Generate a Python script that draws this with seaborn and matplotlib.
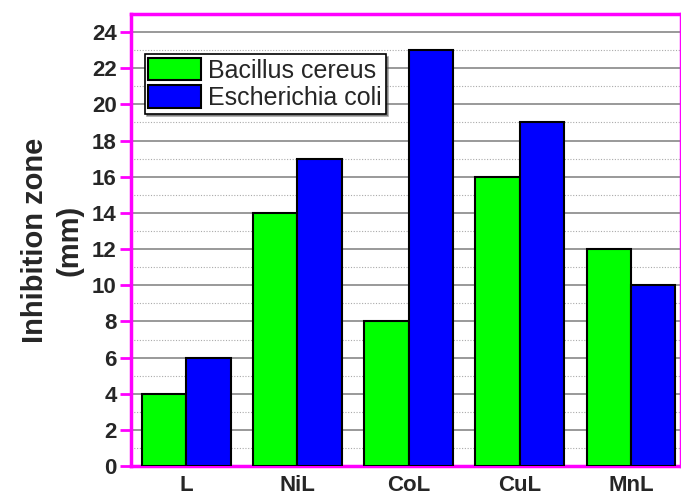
import matplotlib
matplotlib.use('Agg')
import matplotlib.pyplot as plt
import seaborn as sns
import pandas as pd
from matplotlib.ticker import MultipleLocator

compounds = ['L', 'NiL', 'CoL', 'CuL', 'MnL']
bacillus = [4, 14, 8, 16, 12]
ecoli = [6, 17, 23, 19, 10]
series = ['Bacillus cereus', 'Escherichia coli']

df = pd.DataFrame({
    'compound': compounds * 2,
    'zone': bacillus + ecoli,
    'strain': [series[0]] * len(compounds) + [series[1]] * len(compounds),
})

sns.set_style('white')
plt.rcParams['font.family'] = ['Liberation Sans', 'DejaVu Sans']

fig = plt.figure(figsize=(6.81, 4.96), dpi=100)
ax = fig.add_axes([0.192, 0.06, 0.808, 0.912])

sns.barplot(data=df, x='compound', y='zone', hue='strain', order=compounds,
            palette=['#00ff00', '#0000ff'], width=0.8, edgecolor='black',
            linewidth=1.5, saturation=1, ax=ax, zorder=3)

ax.set_xlim(-0.5, 4.45)
ax.set_ylim(0, 25)
ax.yaxis.set_major_locator(MultipleLocator(2))
ax.yaxis.set_minor_locator(MultipleLocator(1))
ax.grid(which='major', axis='y', color='#888888', linewidth=1.2, zorder=0)
ax.grid(which='minor', axis='y', color='#aaaaaa', linewidth=0.8,
        linestyle=(0, (1, 1.5)), zorder=0)
ax.set_axisbelow(True)

for s in ax.spines.values():
    s.set_color('#ff00ff')
    s.set_linewidth(2.5)

ax.tick_params(axis='y', which='major', direction='out', length=8, width=2,
               color='#ff00ff', labelsize=16, pad=2, left=True)
ax.tick_params(axis='y', which='minor', length=0)
ax.tick_params(axis='x', length=0, labelsize=16, pad=6)
for t in ax.get_xticklabels() + ax.get_yticklabels():
    t.set_fontweight('bold')

ax.set_xlabel('')
ax.set_ylabel('Inhibition zone\n(mm)', fontsize=21, fontweight='bold',
              labelpad=6, linespacing=1.3)

leg = ax.legend(loc='upper left', bbox_to_anchor=(0.025, 0.911), fontsize=18,
                frameon=True, fancybox=False, shadow=True, edgecolor='black',
                handlelength=2.1, handleheight=1.0, handletextpad=0.3,
                borderpad=0.15, labelspacing=0.1, borderaxespad=0)
leg.get_frame().set_linewidth(1.2)
leg.set_zorder(5)

fig.savefig('out.png', dpi=100)
